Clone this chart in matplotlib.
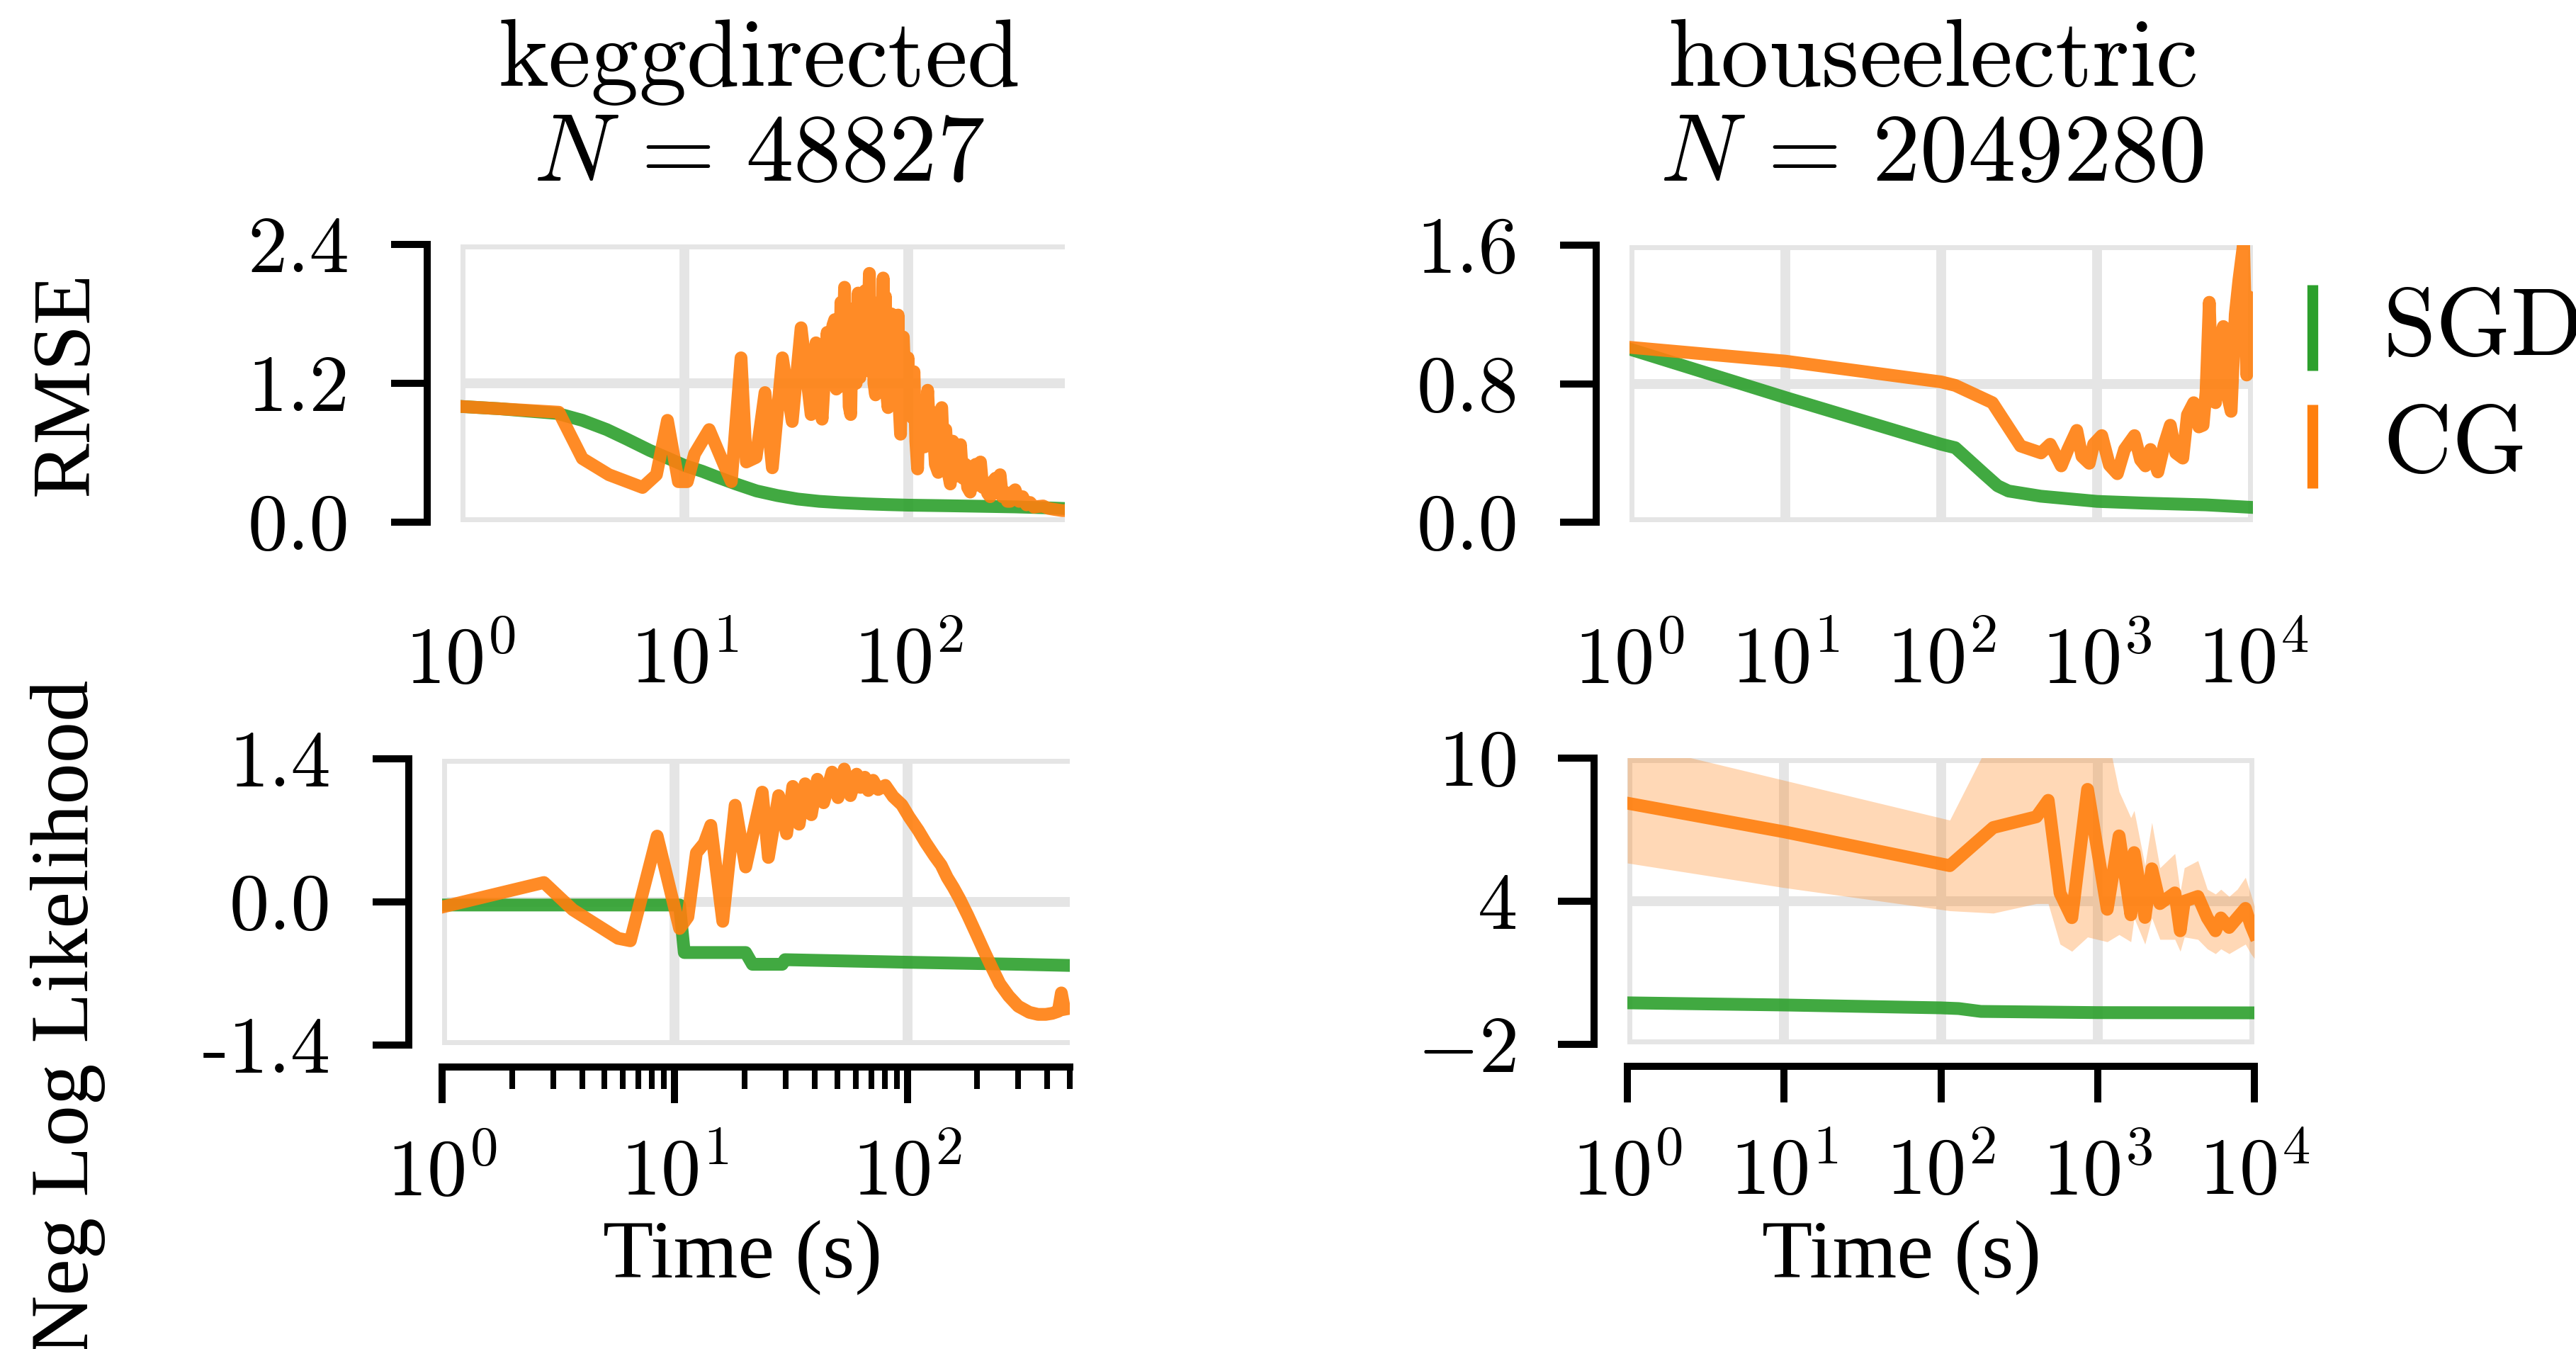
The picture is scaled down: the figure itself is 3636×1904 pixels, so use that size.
import numpy as np
import matplotlib
matplotlib.use("Agg")
import matplotlib.pyplot as plt
from matplotlib.ticker import FixedLocator, FixedFormatter, NullLocator, LogLocator
from matplotlib.lines import Line2D

plt.rcParams['mathtext.fontset'] = 'cm'
plt.rcParams['font.family'] = ['cmr10', 'DejaVu Sans']
plt.rcParams['axes.unicode_minus'] = False

# ---------------- data ----------------
# keggdirected, RMSE
kd_rmse_sgd_t = [1, 1.5, 2, 2.7, 3.5, 4.5, 5.5, 7, 8.5, 10, 12, 14, 17, 21, 26, 32, 40, 50, 65, 80,
                 100, 150, 200, 300, 400, 500]
kd_rmse_sgd_v = [1.00, 0.98, 0.96, 0.94, 0.88, 0.80, 0.72, 0.62, 0.55, 0.49, 0.44, 0.39, 0.33, 0.27,
                 0.23, 0.20, 0.18, 0.168, 0.158, 0.152, 0.147, 0.142, 0.138, 0.132, 0.125, 0.118]
kd_rmse_cg_t = [1, 2.75, 3.5, 4.6, 6.5, 7.5, 8.4, 9.4, 10.3, 11.1, 12.9, 15.0, 16.2, 17.9, 18.9, 20.9,
                22.9, 24.7, 27.4, 30.3, 33.2, 36.8, 38.7, 41.2, 43.4,
                45, 46, 46.9, 47.7, 48.5, 49.3, 50, 51, 51.9, 52.7, 53.5, 54.4, 55.3, 56.2, 57, 57.8,
                58.5, 59.7, 60.8, 62, 63, 64, 65.5, 67, 68, 69, 70.2, 71.4, 72.7, 74, 75.5, 77.2, 78.2,
                79, 80.1, 81.2, 82.5, 84, 85.5, 87, 88.5, 90, 91, 92.3, 93.6, 95, 97.3, 99.7, 101, 103,
                104.5, 106, 108, 110, 112, 115, 118, 122, 125, 128, 132, 136, 138.5, 141, 144, 147, 150,
                154, 158, 162, 166, 171, 175, 180, 184, 189, 194, 200, 205, 210, 215, 220, 226, 232,
                238, 245, 251, 257, 263, 270, 277, 285, 292, 300, 312, 324, 337, 350, 364, 378, 400,
                420, 450, 487, 500]
kd_rmse_cg_v = [1.00, 0.95, 0.55, 0.41, 0.30, 0.41, 0.88, 0.35, 0.35, 0.59, 0.80, 0.50, 0.35, 1.42, 0.52,
                0.56, 1.12, 0.47, 1.42, 0.87, 1.68, 0.93, 1.55, 0.89, 1.64,
                1.20, 1.70, 1.75, 1.15, 1.60, 1.17, 1.90, 1.40, 2.03, 1.30, 1.85, 1.00, 0.93, 1.70, 1.20,
                1.85, 1.20, 1.98, 1.25, 1.85, 1.30, 2.00, 1.40, 2.15, 1.30, 1.90, 1.20, 1.10, 1.85, 1.90,
                1.20, 2.11, 1.40, 1.95, 1.10, 0.99, 1.70, 1.80, 1.10, 1.70, 1.20, 1.79, 1.00, 0.76, 1.50,
                1.60, 1.00, 1.42, 0.95, 1.25, 0.90, 1.30, 0.70, 0.46, 1.05, 1.00, 0.65, 1.14, 0.70, 0.95,
                0.50, 0.43, 0.95, 0.99, 0.55, 0.80, 0.45, 0.33, 0.70, 0.60, 0.40, 0.67, 0.38, 0.50, 0.30,
                0.26, 0.48, 0.50, 0.32, 0.52, 0.30, 0.34, 0.25, 0.22, 0.35, 0.38, 0.25, 0.41, 0.22, 0.26,
                0.18, 0.18, 0.26, 0.28, 0.18, 0.22, 0.15, 0.17, 0.13, 0.135, 0.14, 0.12, 0.11, 0.10,
                0.10]

# keggdirected, negative log likelihood
kd_nll_sgd_t = [1, 10.5, 11.0, 20.2, 21.6, 29, 29.8, 100, 300, 474]
kd_nll_sgd_v = [-0.03, -0.03, -0.495, -0.495, -0.61, -0.61, -0.565, -0.59, -0.61, -0.62]
kd_nll_cg_t = [1, 2.74, 3.65, 5.71, 6.45, 8.41, 10.5, 11.4, 12.4, 13.4, 14.3, 16.1, 18.2, 20.2, 23.8,
               25.3, 28, 30.3, 32.2, 34.3, 36.4, 38.7, 41.1, 43.7, 47.5, 50.4, 53.6, 57, 60.6, 63,
               65.7, 68, 71.3, 75, 80.5, 87, 94.8, 102, 111.6, 120, 131, 140, 148.5, 158, 168, 182,
               197, 214, 232, 250, 273, 300, 335, 365, 394, 420, 446, 460, 474]
kd_nll_cg_v = [-0.05, 0.19, -0.077, -0.356, -0.38, 0.644, -0.26, -0.146, 0.48, 0.574, 0.749, -0.19,
               0.946, 0.342, 1.074, 0.435, 1.04, 0.667, 1.13, 0.76, 1.156, 0.853, 1.20, 0.97, 1.27,
               1.02, 1.30, 1.04, 1.25, 1.12, 1.22, 1.09, 1.19, 1.10, 1.14, 1.03, 0.95, 0.83, 0.70, 0.58,
               0.45, 0.36, 0.24, 0.14, 0.03, -0.13, -0.30, -0.48, -0.65, -0.80, -0.92, -1.02, -1.08,
               -1.10, -1.10, -1.09, -1.07, -0.89, -1.05]

# houseelectric, RMSE
he_rmse_sgd_t = [1, 10, 100, 123, 150, 188, 230, 270, 435, 1000, 2000, 5000, 10000]
he_rmse_sgd_v = [1.00, 0.72, 0.45, 0.43, 0.36, 0.28, 0.21, 0.18, 0.15, 0.12, 0.11, 0.10, 0.085]
he_rmse_cg_t = [1, 10, 100, 123, 213, 323, 437, 500, 589, 650, 741, 800, 891, 950, 1072, 1200, 1349,
                1500, 1738, 1900, 2042, 2200, 2455, 2700, 2951, 3200, 3548, 3800, 4169, 4500, 4786,
                5000, 5248, 5500, 5754, 6100, 6457, 6800, 7244, 7700, 8128, 8710, 9120, 9500, 10000]
he_rmse_cg_v = [1.01, 0.93, 0.81, 0.79, 0.69, 0.44, 0.40, 0.45, 0.325, 0.42, 0.53, 0.38, 0.34, 0.45,
                0.50, 0.33, 0.28, 0.42, 0.50, 0.36, 0.325, 0.42, 0.29, 0.45, 0.56, 0.40, 0.37, 0.62,
                0.69, 0.55, 0.56, 0.75, 1.27, 0.70, 0.69, 1.05, 1.13, 0.75, 0.64, 1.20, 1.40, 1.61,
                0.85, 1.30, 0.93]

# houseelectric, negative log likelihood
he_nll_sgd_t = [1, 10, 100, 130, 180, 1000, 10000]
he_nll_sgd_v = [-0.26, -0.35, -0.47, -0.50, -0.62, -0.67, -0.68]
he_nll_cg_t = [1, 10, 114, 216, 407, 484, 576, 685, 863, 1152, 1371, 1630, 1710, 2005, 2218, 2497,
               3112, 3366, 3574, 4365, 5012, 5649, 6118, 6902, 7780, 8770, 9490, 10000]
he_nll_cg_v = [8.11, 6.91, 5.49, 7.09, 7.54, 8.23, 4.34, 3.31, 8.69, 3.66, 6.74, 3.43, 6.04, 3.32, 5.36,
               3.90, 4.35, 2.76, 4.00, 4.20, 3.30, 2.76, 3.30, 2.90, 3.30, 3.70, 3.00, 2.64]
he_nll_cg_hi = [10.65, 9.07, 7.40, 11, 11, 11, 11, 11, 11, 11, 8.6, 7.5, 7.8, 5.5, 7.3, 5.4, 6.0, 4.4,
                5.4, 5.7, 4.5, 4.3, 4.5, 4.2, 4.5, 5.0, 4.3, 3.8]
he_nll_cg_lo = [5.6, 4.57, 3.6, 3.5, 3.9, 3.9, 2.2, 1.9, 2.5, 2.3, 2.6, 2.3, 3.3, 2.2, 3.3, 2.4, 2.4,
                1.9, 2.5, 2.4, 2.0, 1.8, 2.0, 1.8, 2.0, 2.2, 1.8, 1.6]

titles = ["keggdirected", "houseelectric"]
sizes = ["48827", "2049280"]
legend_labels = ["SGD", "CG"]

rmse_ticks = {"kd": [0.0, 1.2, 2.4], "he": [0.0, 0.8, 1.6]}
rmse_ticklabels = {"kd": ["0.0", "1.2", "2.4"], "he": ["0.0", "0.8", "1.6"]}
nll_ticks = {"kd": [-1.4, 0.0, 1.4], "he": [-2, 4, 10]}
nll_ticklabels = {"kd": ["-1.4", "0.0", "1.4"], "he": [r"$-2$", r"$4$", r"$10$"]}

# ---------------- figure ----------------
W, H = 3636, 1904
fig = plt.figure(figsize=(W / 100, H / 100), dpi=100)

GREEN = '#2ca02c'
ORANGE = '#ff7f0e'
GRID = '#e5e5e5'
TICK_FS = 81
LABEL_FS = 84
TITLE_FS = 97
LW = 13


def add_axes_px(l, r, t, b):
    return fig.add_axes([l / W, 1 - b / H, (r - l) / W, (b - t) / H])


def style(ax, xmax, exps, yticks, ylabels, bottom_row, minor):
    ax.set_xscale('log')
    ax.set_xlim(1, xmax)
    ax.set_ylim(yticks[0], yticks[-1])
    for s in ['top', 'right']:
        ax.spines[s].set_visible(False)
    ax.spines['left'].set_position(('outward', 34))
    ax.spines['left'].set_linewidth(7.2)
    ax.yaxis.set_major_locator(FixedLocator(yticks))
    ax.yaxis.set_major_formatter(FixedFormatter(ylabels))
    ax.xaxis.set_major_locator(FixedLocator([10.0 ** e for e in exps]))
    ax.xaxis.set_major_formatter(FixedFormatter([r'$\mathrm{10}^{\mathrm{%d}}$' % e for e in exps]))
    if minor:
        ax.xaxis.set_minor_locator(LogLocator(base=10, subs=np.arange(2, 10), numticks=50))
    else:
        ax.xaxis.set_minor_locator(NullLocator())
    ax.tick_params(axis='y', which='major', length=37, width=7.2, pad=42, labelsize=TICK_FS)
    ax.grid(True, which='major', color=GRID, lw=10)
    ax.set_axisbelow(True)
    if bottom_row:
        ax.spines['bottom'].set_position(('outward', 22))
        ax.spines['bottom'].set_linewidth(7.2)
        ax.tick_params(axis='x', which='major', length=37, width=7.2, pad=36, labelsize=TICK_FS)
        ax.tick_params(axis='x', which='minor', length=22, width=5.8)
    else:
        ax.spines['bottom'].set_visible(False)
        ax.tick_params(axis='x', which='both', length=0, pad=106, labelsize=TICK_FS)


def draw(ax, sgd_t, sgd_v, cg_t, cg_v):
    ax.plot(sgd_t, sgd_v, color=GREEN, lw=LW, alpha=0.9)
    ax.plot(cg_t, cg_v, color=ORANGE, lw=LW, alpha=0.9)


# keggdirected RMSE
ax1 = add_axes_px(650, 1503, 345, 737)
draw(ax1, kd_rmse_sgd_t, kd_rmse_sgd_v, kd_rmse_cg_t, kd_rmse_cg_v)
style(ax1, 500, [0, 1, 2], rmse_ticks["kd"], rmse_ticklabels["kd"], False, False)

# houseelectric RMSE
ax2 = add_axes_px(2300, 3180, 346, 737)
draw(ax2, he_rmse_sgd_t, he_rmse_sgd_v, he_rmse_cg_t, he_rmse_cg_v)
style(ax2, 1e4, [0, 1, 2, 3, 4], rmse_ticks["he"], rmse_ticklabels["he"], False, False)

# keggdirected NLL
ax3 = add_axes_px(624, 1510, 1071, 1475)
draw(ax3, kd_nll_sgd_t, kd_nll_sgd_v, kd_nll_cg_t, kd_nll_cg_v)
style(ax3, 500, [0, 1, 2], nll_ticks["kd"], nll_ticklabels["kd"], True, True)

# houseelectric NLL
ax4 = add_axes_px(2297, 3182, 1070, 1474)
ax4.fill_between(he_nll_cg_t, he_nll_cg_lo, he_nll_cg_hi, color=ORANGE, alpha=0.3, lw=0)
draw(ax4, he_nll_sgd_t, he_nll_sgd_v, he_nll_cg_t, he_nll_cg_v)
style(ax4, 1e4, [0, 1, 2, 3, 4], nll_ticks["he"], nll_ticklabels["he"], True, False)

# titles
for xc, name, n in [(1071, titles[0], sizes[0]), (2727, titles[1], sizes[1])]:
    fig.text(xc / W, 1 - 121 / H, r'$\mathrm{%s}$' % name, fontsize=TITLE_FS, ha='center', va='baseline')
    fig.text(xc / W, 1 - 255 / H, r'$N\,=\,%s$' % n, fontsize=TITLE_FS, ha='center', va='baseline')

# axis labels
serif = ['Liberation Serif', 'DejaVu Serif']
fig.text(96 / W, 1 - 541 / H, 'RMSE', rotation=90, family=serif, fontsize=LABEL_FS,
         ha='center', va='center')
fig.text(96 / W, 1 - 1436 / H, 'Neg Log Likelihood', rotation=90, family=serif, fontsize=LABEL_FS,
         ha='center', va='center')
for xc in [1048, 2684]:
    fig.text(xc / W, 1 - 1802 / H, 'Time (s)', family=serif, fontsize=LABEL_FS,
             ha='center', va='baseline')

# legend (vertical line handles)
for (y0, y1, yc), col, lab in [((402, 523, 467), GREEN, legend_labels[0]),
                               ((571, 689, 632), ORANGE, legend_labels[1])]:
    fig.add_artist(Line2D([3264 / W, 3264 / W], [1 - y0 / H, 1 - y1 / H], transform=fig.transFigure,
                          color=col, lw=11, solid_capstyle='butt'))
    fig.text(3363 / W, 1 - yc / H, r'$\mathrm{%s}$' % lab, fontsize=TITLE_FS, ha='left', va='center')

fig.savefig('out.png', dpi=100)
